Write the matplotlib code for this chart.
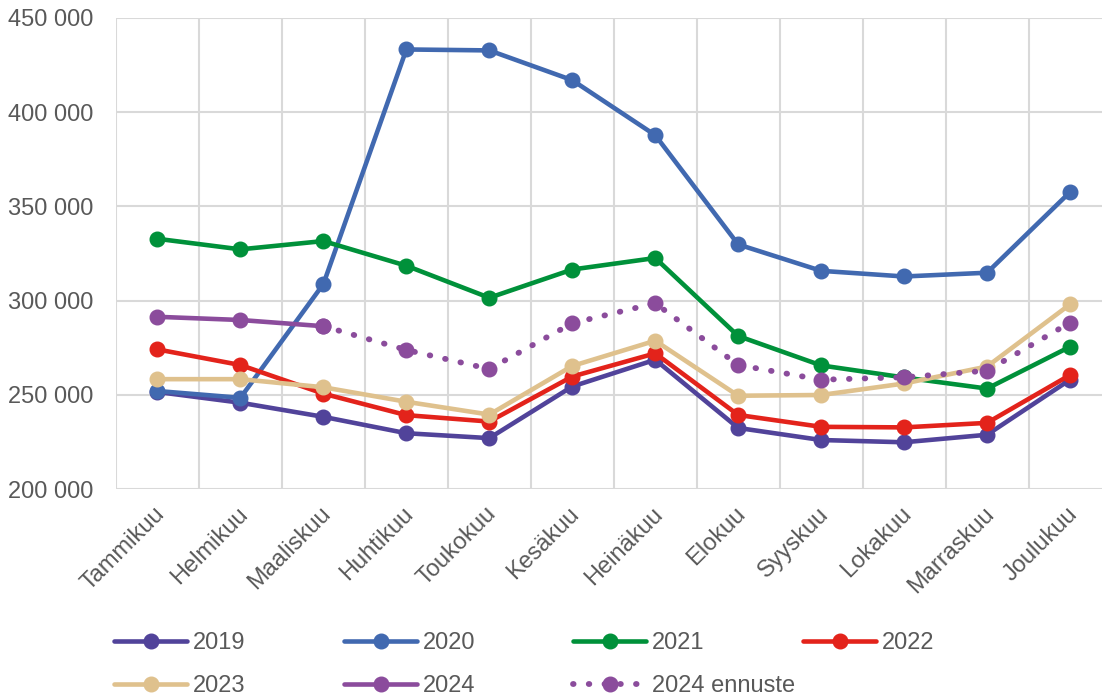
import numpy as np
import matplotlib
matplotlib.use('Agg')
from matplotlib import pyplot as plt
from matplotlib import transforms
from matplotlib.ticker import FuncFormatter, FixedLocator

plt.rcParams['font.family'] = ['Liberation Sans', 'DejaVu Sans']

months = ['Tammikuu', 'Helmikuu', 'Maaliskuu', 'Huhtikuu', 'Toukokuu', 'Kesäkuu',
          'Heinäkuu', 'Elokuu', 'Syyskuu', 'Lokakuu', 'Marraskuu', 'Joulukuu']

y2019 = [251500, 245800, 238300, 229600, 227000, 254400, 268600, 232400, 226000, 224800, 228800, 258000]
y2020 = [252000, 248400, 308800, 433300, 432800, 417000, 387800, 329800, 315800, 312800, 314800, 357600]
y2021 = [332800, 327200, 331600, 318500, 301500, 316500, 322600, 281200, 265600, 259200, 253300, 275500]
y2022 = [274100, 265800, 250600, 239200, 235800, 259700, 272000, 239300, 233000, 232700, 235100, 260500]
y2023 = [258300, 258300, 254000, 246300, 239500, 265300, 278700, 249500, 249900, 256000, 265000, 298000]
y2024 = [291400, 289700, 286400]
y2024_ennuste = [286400, 273800, 263700, 288000, 298600, 265800, 258000, 259300, 262800, 288300]

colors = {'2019': '#51439A', '2020': '#4169B0', '2021': '#00913A',
          '2022': '#E3231B', '2023': '#DFC18D', '2024': '#8B4C9C'}

fig = plt.figure(figsize=(11.02, 6.97), dpi=100)
ax = fig.add_axes([116 / 1102, 1 - 489 / 697, 995.5 / 1102, 471 / 697])

x = np.arange(12)
lw = 3.3
ms = 10.5
handles = {}
for name, vals in [('2019', y2019), ('2020', y2020), ('2021', y2021),
                   ('2022', y2022), ('2023', y2023)]:
    handles[name], = ax.plot(x, vals, '-o', color=colors[name], lw=lw, ms=ms,
                             solid_capstyle='round', label=name)
handles['2024'], = ax.plot(x[:3], y2024, '-o', color=colors['2024'], lw=lw, ms=ms,
                           solid_capstyle='round', label='2024')
handles['ennuste'], = ax.plot(x[2:], y2024_ennuste, 'o', color=colors['2024'], ls=(0, (0.1, 2.6)),
                              lw=4.2, ms=ms, dash_capstyle='round', label='2024 ennuste')

ax.set_xlim(-0.5, 11.5)
ax.set_ylim(200000, 450000)
ax.set_yticks(np.arange(200000, 450001, 50000))
ax.yaxis.set_major_formatter(FuncFormatter(lambda v, p: f'{int(v):,}'.replace(',', ' ')))
ax.set_xticks(x)
ax.set_xticklabels(months, rotation=45, ha='right', rotation_mode='anchor')
ax.xaxis.set_minor_locator(FixedLocator(np.arange(-0.5, 12, 1)))
ax.grid(True, which='minor', axis='x', color='#D9D9D9', lw=1.5)
ax.grid(True, which='major', axis='y', color='#D9D9D9', lw=1.5)
ax.set_axisbelow(True)
for s in ax.spines.values():
    s.set_visible(False)
ax.tick_params(axis='both', which='both', length=0, labelsize=17, labelcolor='#595959')
ax.tick_params(axis='x', pad=10)
ax.tick_params(axis='y', pad=78)
for lab in ax.get_yticklabels():
    lab.set_horizontalalignment('left')
shift = transforms.ScaledTranslation(-4 / 100, 0, fig.dpi_scale_trans)
for lab in ax.get_xticklabels():
    lab.set_transform(lab.get_transform() + shift)

# legend: one block per column so the columns sit at fixed spacing
cols = [(114, ['2019', '2023']), (344, ['2020', '2024']),
        (573, ['2021', 'ennuste']), (803, ['2022'])]
for xpos, keys in cols:
    hs = [handles[k] for k in keys]
    fig.legend(handles=hs, labels=[h.get_label() for h in hs], loc='upper left',
               bbox_to_anchor=(xpos / 1102, 1 - 632 / 697), frameon=False,
               fontsize=17, labelcolor='#595959', handlelength=3.1, handletextpad=0.25,
               labelspacing=0.9, borderpad=0, borderaxespad=0)

fig.savefig('out.png', dpi=100)
